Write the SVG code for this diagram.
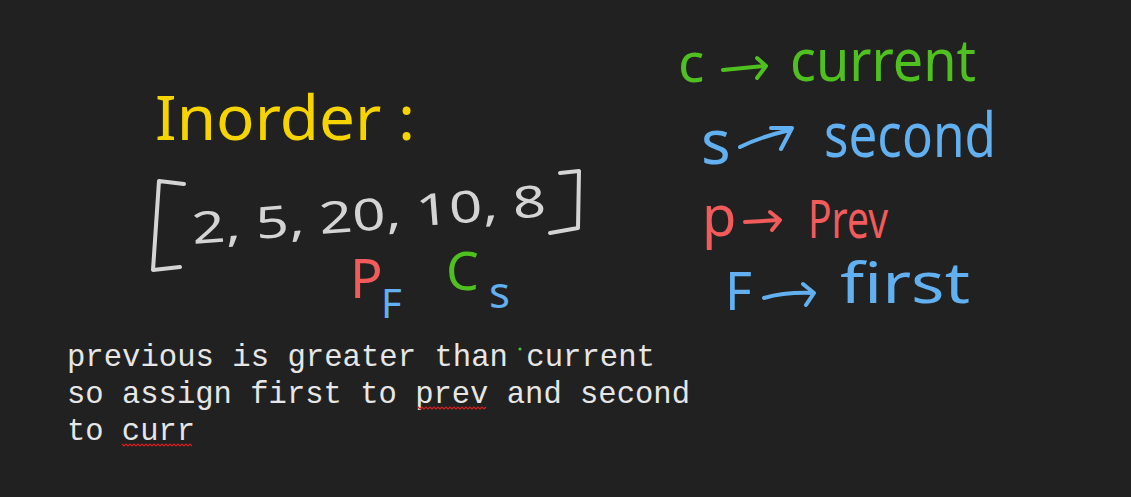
<svg xmlns="http://www.w3.org/2000/svg" width="1131" height="497" viewBox="0 0 1131 497">
<style>
.hw{font-family:"Noto Sans","Open Sans",sans-serif;}
.mono{font-family:"Liberation Mono","DejaVu Sans Mono",monospace;font-size:30.5px;fill:#e6e6e6;}
.stroke{fill:none;stroke-width:4;stroke-linecap:round;stroke-linejoin:round;}
.yellow{fill:#f5d400;}
.gray{fill:#d4d4d4;}
.red{fill:#f25b5b;}
.blue{fill:#62b0f0;}
.green{fill:#4fc020;}
.squig{fill:none;stroke:#d42020;stroke-width:1.2;}
</style>
<rect width="1131" height="497" fill="#212121"/>

<g id="title">
<text class="hw yellow" x="155" y="140" font-size="62" textLength="260" lengthAdjust="spacingAndGlyphs">Inorder :</text>
</g>

<g id="array">
<path class="stroke" stroke="#d4d4d4" d="M184 184 L159 181 L153 270 L180 267"/>
<path class="stroke" stroke="#d4d4d4" d="M560 173 L579 171 L578 228 L550 233"/>
<text class="hw gray" x="193" y="244" font-size="44" transform="rotate(-4.5 193 244)" textLength="355" lengthAdjust="spacingAndGlyphs">2, 5, 20, 10, 8</text>
</g>

<g id="pointers">
<text class="hw red" x="350" y="298" font-size="54">P</text>
<text class="hw blue" x="381" y="318" font-size="40">F</text>
<text class="hw green" x="446" y="290" font-size="52">C</text>
<text class="hw blue" x="489" y="308" font-size="44">s</text>
</g>

<g id="legend-current">
<text class="hw green" x="678" y="82" font-size="55">c</text>
<text class="hw green" x="790" y="81" font-size="58" textLength="186" lengthAdjust="spacingAndGlyphs">current</text>
</g>
<g id="legend-second">
<text class="hw blue" x="701" y="164" font-size="62">s</text>
<text class="hw blue" x="824" y="157" font-size="62" textLength="172" lengthAdjust="spacingAndGlyphs">second</text>
</g>
<g id="legend-prev">
<text class="hw red" x="702" y="236" font-size="56">p</text>
<text class="hw red" x="808" y="238" font-size="52" textLength="80" lengthAdjust="spacingAndGlyphs">Prev</text>
</g>
<g id="legend-first">
<text class="hw blue" x="725" y="310" font-size="52">F</text>
<text class="hw blue" x="840" y="303" font-size="56" textLength="130" lengthAdjust="spacingAndGlyphs">first</text>
</g>

<g id="connectors">
<path class="stroke" stroke="#4fc020" d="M723 70 L765 66 M757 58 L766 66 L757 78"/>
<path class="stroke" stroke="#62b0f0" d="M740 147 Q760 137 790 130 M771 128 L792 128 L781 149"/>
<path class="stroke" stroke="#f25b5b" d="M745 222 L779 220 M770 212 L780 220 L772 230"/>
<path class="stroke" stroke="#62b0f0" d="M764 298 Q785 292 813 293 M803 284 L814 293 L806 305"/>
</g>

<g id="note">
<text class="mono" x="67" y="366" textLength="588" lengthAdjust="spacingAndGlyphs">previous is greater than current</text>
<text class="mono" x="67" y="403" textLength="623" lengthAdjust="spacingAndGlyphs">so assign first to prev and second</text>
<text class="mono" x="67" y="440" textLength="128" lengthAdjust="spacingAndGlyphs">to curr</text>
<circle cx="520" cy="349" r="1.6" fill="#3cc03c"/>
<path class="squig" d="M418 407 l2 2 l2 -2 l2 2 l2 -2 l2 2 l2 -2 l2 2 l2 -2 l2 2 l2 -2 l2 2 l2 -2 l2 2 l2 -2 l2 2 l2 -2 l2 2 l2 -2 l2 2 l2 -2 l2 2 l2 -2 l2 2 l2 -2 l2 2 l2 -2 l2 2 l2 -2 l2 2 l2 -2 l2 2 l2 -2 l2 2 l2 -2"/>
<path class="squig" d="M122 444 l2 2 l2 -2 l2 2 l2 -2 l2 2 l2 -2 l2 2 l2 -2 l2 2 l2 -2 l2 2 l2 -2 l2 2 l2 -2 l2 2 l2 -2 l2 2 l2 -2 l2 2 l2 -2 l2 2 l2 -2 l2 2 l2 -2 l2 2 l2 -2 l2 2 l2 -2 l2 2 l2 -2 l2 2 l2 -2 l2 2 l2 -2 l2 2"/>
</g>
</svg>
